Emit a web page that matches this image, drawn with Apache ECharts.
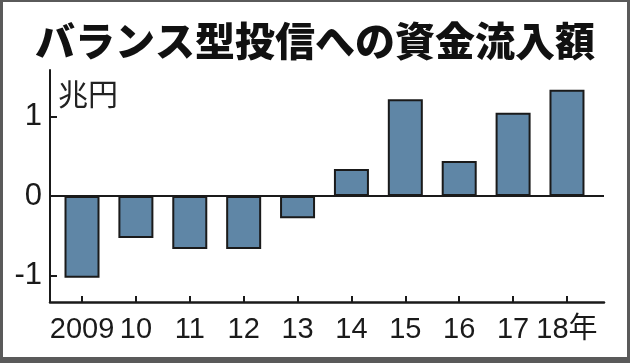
<!DOCTYPE html>
<html>
<head>
<meta charset="utf-8">
<script src="https://cdn.jsdelivr.net/npm/echarts@6/dist/echarts.min.js"></script>
<style>
html,body{margin:0;padding:0;background:#fff;}
#frame{width:624px;height:355px;border-left:3px solid #5a5a5a;border-top:2px solid #5a5a5a;border-right:3px solid #5a5a5a;border-bottom:6px solid #5a5a5a;background:#fff;}
#chart{width:624px;height:355px;}
</style>
</head>
<body>
<div id="frame"><div id="chart"></div></div>
<script>
const titleText = 'バランス型投信への資金流入額';
const unitText = '兆円';
const years = [2009, 2010, 2011, 2012, 2013, 2014, 2015, 2016, 2017, 2018];
const xLabels = ['2009', '10', '11', '12', '13', '14', '15', '16', '17', '18年'];
const flows = [-1.03, -0.53, -0.67, -0.67, -0.28, 0.34, 1.22, 0.44, 1.05, 1.34];
const yTicks = [-1, 0, 1];
const yLabels = ['-1', '0', '1'];

const numFont = '"Liberation Sans", "Noto Sans CJK JP", sans-serif';
const cjkFont = '"Noto Sans CJK JP", sans-serif';

const chart = echarts.init(document.getElementById('chart'), null, {renderer: 'canvas'});
chart.setOption({
  animation: false,
  backgroundColor: '#fff',
  title: [
    {text: titleText, left: 'center', top: 18, padding: 0,
     textStyle: {fontFamily: cjkFont, fontWeight: 900, fontSize: 40, lineHeight: 42, color: '#111'}},
    {text: unitText, left: 55, top: 76, padding: 0,
     textStyle: {fontFamily: cjkFont, fontWeight: 'normal', fontSize: 30, lineHeight: 32, color: '#222'}}
  ],
  grid: {left: 47, top: 68, right: 23, bottom: 55},
  xAxis: {
    type: 'value', min: 2008.406, max: 2018.687,
    splitLine: {show: false},
    axisLine: {show: true, onZero: false, lineStyle: {color: '#1a1a1a', width: 2.5}},
    axisTick: {show: true, inside: true, length: 6, customValues: years, lineStyle: {color: '#1a1a1a', width: 2}},
    axisLabel: {show: true, customValues: years, margin: 13, color: '#1a1a1a',
      showMinLabel: true, showMaxLabel: true, hideOverlap: false,
      fontFamily: numFont, fontSize: 29,
      formatter: v => xLabels[years.indexOf(Math.round(v))]}
  },
  yAxis: {
    type: 'value', min: -1.337, max: 1.589,
    splitLine: {show: false},
    axisLine: {show: true, onZero: false, lineStyle: {color: '#1a1a1a', width: 2}},
    axisTick: {show: true, inside: true, length: 7, customValues: yTicks, lineStyle: {color: '#1a1a1a', width: 2}},
    axisLabel: {show: true, customValues: yTicks, margin: 8, color: '#1a1a1a',
      showMinLabel: true, showMaxLabel: true, hideOverlap: false,
      fontFamily: numFont, fontSize: 31,
      formatter: v => yLabels[yTicks.indexOf(Math.round(v))]}
  },
  series: [{
    type: 'bar',
    data: years.map((y, i) => [y, flows[i]]),
    barWidth: 35,
    itemStyle: {color: '#5f86a6', borderColor: '#1a1a1a', borderWidth: 2},
    markLine: {
      silent: true, symbol: 'none', label: {show: false},
      lineStyle: {color: '#1a1a1a', width: 2, type: 'solid'},
      data: [{yAxis: 0}]
    }
  }]
});
</script>
</body>
</html>
